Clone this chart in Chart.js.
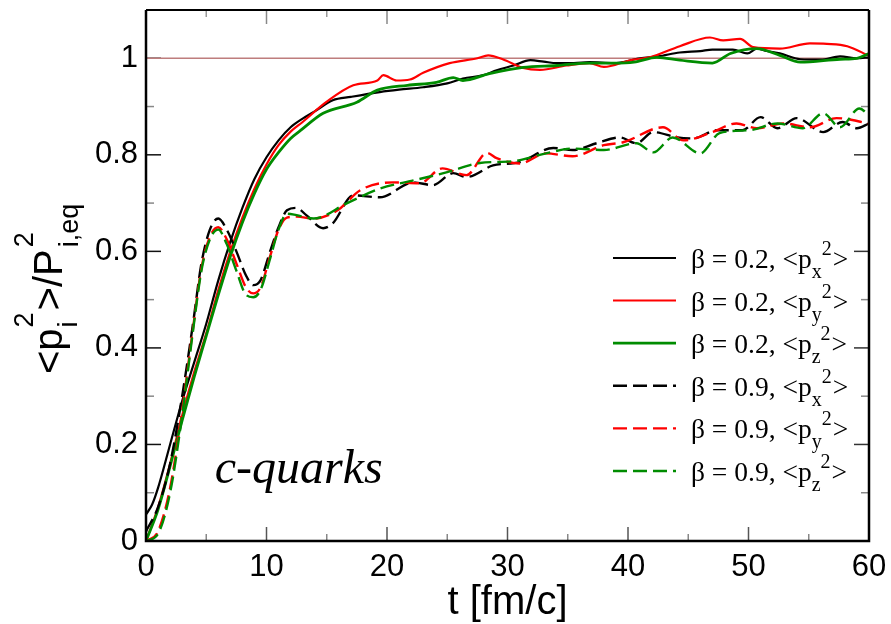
<!DOCTYPE html>
<html><head><meta charset="utf-8">
<script src="https://cdn.jsdelivr.net/npm/chart.js@4.4.1/dist/chart.umd.min.js"></script>
<style>html,body{margin:0;padding:0;background:#fff}#wrap{width:891px;height:624px;position:relative}</style>
</head><body><div id="wrap"><canvas id="c" width="891" height="624"></canvas></div>
<script>
// ---- tick values ----
const xTicks = [0, 10, 20, 30, 40, 50, 60];
const yTicks = [0, 0.2, 0.4, 0.6, 0.8, 1];
const xMinorTicks = [5, 15, 25, 35, 45, 55];
const yMinorTicks = [0.1, 0.3, 0.5, 0.7, 0.9];

// ---- legend ----
const legendBeta = ['0.2', '0.2', '0.2', '0.9', '0.9', '0.9'];
const legendComp = ['x', 'y', 'z', 'x', 'y', 'z'];

// ---- beta = 0.2 (solid) ----
const tB02x = [0, 0.5, 1, 2, 3, 4, 5, 6, 7, 8, 9, 10, 11, 12, 13, 14, 15.5, 17, 19.4, 21, 23, 25, 26.3, 28, 29.1, 30.5, 31.9, 33, 34.1, 35.5, 36.8, 38.8, 41, 42.5, 44.3, 46, 47, 48.7, 49.9, 50.7, 51.5, 52.6, 54.3, 56, 57.6, 59, 60];
const yB02x = [0.055, 0.075, 0.11, 0.2, 0.29, 0.37, 0.45, 0.54, 0.62, 0.69, 0.75, 0.795, 0.83, 0.857, 0.875, 0.89, 0.913, 0.92, 0.93, 0.935, 0.94, 0.948, 0.958, 0.965, 0.975, 0.985, 0.996, 0.993, 0.99, 0.99, 0.992, 0.99, 1.0, 1.004, 1.012, 1.015, 1.018, 1.018, 1.01, 1.02, 1.015, 1.01, 0.998, 0.997, 1.004, 1.0, 1.002];

const tB02y = [0, 1, 2, 3, 4, 5, 6, 7, 8, 9, 10, 11, 12, 13, 15, 17.2, 19.2, 19.7, 20.8, 21.9, 23, 25.2, 27.5, 28.4, 29.6, 31.3, 32.7, 34.9, 36.8, 38, 40.2, 41.8, 44.3, 46.8, 47.9, 49.3, 50.4, 52.6, 55.1, 56.5, 58.2, 60];
const yB02y = [0.0, 0.07, 0.16, 0.26, 0.35, 0.43, 0.52, 0.6, 0.67, 0.73, 0.78, 0.82, 0.848, 0.868, 0.91, 0.944, 0.954, 0.965, 0.954, 0.956, 0.97, 0.99, 1.0, 1.006, 0.998, 0.98, 0.976, 0.985, 0.99, 0.982, 0.996, 1.002, 1.025, 1.043, 1.037, 1.04, 1.023, 1.02, 1.031, 1.03, 1.025, 1.005];

const tB02z = [0, 1, 2, 3, 4, 5, 6, 7, 8, 9, 10, 11, 12, 12.8, 14.7, 17.5, 19.2, 21.7, 24.1, 25.5, 26.3, 28.5, 31.3, 34.1, 36.8, 38.8, 40.5, 42.4, 44.3, 47, 48.5, 50.7, 52.6, 54.3, 57.6, 59, 60];
const yB02z = [0.0, 0.065, 0.155, 0.25, 0.34, 0.425, 0.51, 0.59, 0.66, 0.72, 0.77, 0.805, 0.834, 0.85, 0.886, 0.909, 0.934, 0.944, 0.95, 0.96, 0.954, 0.968, 0.981, 0.985, 0.99, 0.99, 0.992, 1.002, 0.996, 0.99, 1.01, 1.02, 1.006, 0.992, 0.998, 1.0, 1.01];

// ---- beta = 0.9 (dashed) ----
const tB09x = [0, 1, 2, 3, 3.9, 4.6, 5.3, 6.0, 6.7, 7.5, 8.3, 8.9, 9.5, 10.3, 11, 11.7, 12.5, 13.3, 14.7, 15.5, 17.2, 19.4, 22.2, 23.8, 25.5, 26.6, 28.8, 31, 33.8, 35.4, 37.4, 39.3, 40.7, 42.1, 44.1, 45.4, 47.4, 49.5, 51, 52.4, 54, 56.2, 57.8, 59, 60];
const yB09x = [0.02, 0.07, 0.16, 0.3, 0.45, 0.575, 0.645, 0.668, 0.645, 0.6, 0.55, 0.53, 0.54, 0.6, 0.65, 0.685, 0.69, 0.675, 0.648, 0.658, 0.716, 0.712, 0.743, 0.737, 0.762, 0.754, 0.778, 0.785, 0.814, 0.81, 0.824, 0.836, 0.824, 0.847, 0.836, 0.834, 0.851, 0.851, 0.878, 0.855, 0.876, 0.847, 0.868, 0.855, 0.865];

const tB09y = [0, 1, 2, 3, 3.9, 4.6, 5.3, 6.0, 6.7, 7.5, 8.3, 8.9, 9.5, 10.3, 11, 11.7, 12.5, 13.9, 15.9, 17.8, 20.5, 22.7, 24.6, 26.6, 28.3, 29.1, 31, 33.2, 35.4, 38, 39.6, 42.9, 44.6, 47, 49, 50.7, 52.9, 55.1, 57.3, 60];
const yB09y = [0, 0.02, 0.11, 0.27, 0.44, 0.565, 0.63, 0.65, 0.625, 0.575, 0.525, 0.513, 0.525, 0.59, 0.645, 0.67, 0.672, 0.668, 0.685, 0.727, 0.743, 0.741, 0.772, 0.758, 0.804, 0.793, 0.782, 0.803, 0.797, 0.82, 0.826, 0.857, 0.83, 0.847, 0.865, 0.855, 0.865, 0.857, 0.876, 0.865];

const tB09z = [0, 1, 2, 3, 3.9, 4.6, 5.3, 6.0, 6.7, 7.5, 8.3, 8.9, 9.5, 10.3, 11, 11.7, 12.5, 13.9, 16.7, 19.4, 22.2, 25, 27.7, 30.5, 33.2, 35.4, 38, 40.7, 42.1, 43.7, 46, 47.6, 50.1, 52.4, 54.5, 56.2, 57.6, 59.2, 60];
const yB09z = [0, 0.015, 0.1, 0.26, 0.435, 0.56, 0.625, 0.645, 0.615, 0.56, 0.51, 0.505, 0.52, 0.585, 0.645, 0.678, 0.675, 0.668, 0.70, 0.73, 0.747, 0.764, 0.783, 0.787, 0.803, 0.813, 0.81, 0.824, 0.805, 0.836, 0.803, 0.845, 0.851, 0.865, 0.855, 0.886, 0.857, 0.896, 0.882];

// ---- reference line ----
const refT = [0, 60];
const refY = [1, 1];

const BLACK = '#000000', RED = '#ff0000', GREEN = '#008c00';
const DASH = [14, 6];

function pts(t, y) { return t.map((v, i) => ({ x: v, y: y[i] })); }

function ds(t, y, color, dashed, width, order) {
  return {
    data: pts(t, y), borderColor: color, borderWidth: width,
    borderDash: dashed ? DASH : [], pointRadius: 0, fill: false,
    cubicInterpolationMode: 'monotone', order: order
  };
}

const datasets = [
  ds(tB02x, yB02x, BLACK, false, 2.2, 6),
  ds(tB02y, yB02y, RED, false, 2.2, 5),
  ds(tB02z, yB02z, GREEN, false, 2.8, 4),
  ds(tB09x, yB09x, BLACK, true, 2.4, 3),
  ds(tB09y, yB09y, RED, true, 2.4, 2),
  ds(tB09z, yB09z, GREEN, true, 2.4, 1),
  { data: pts(refT, refY), borderColor: 'rgb(190,125,125)', borderWidth: 1.5, pointRadius: 0, fill: false, order: 10 }
];
const legendStyle = [
  [BLACK, false, 2], [RED, false, 2], [GREEN, false, 2.8],
  [BLACK, true, 2.4], [RED, true, 2.4], [GREEN, true, 2.4]
];

const decor = {
  id: 'decor',
  beforeDatasetsDraw(chart) {
    const ctx = chart.ctx, a = chart.chartArea, xs = chart.scales.x, ys = chart.scales.y;
    ctx.save();
    const tick = (x1, y1, x2, y2, col) => {
      ctx.strokeStyle = col; ctx.lineWidth = 1.5; ctx.beginPath();
      ctx.moveTo(x1, y1); ctx.lineTo(x2, y2); ctx.stroke();
    };
    xTicks.forEach(v => { const p = xs.getPixelForValue(v); tick(p, a.bottom, p, a.bottom - 14, '#555'); tick(p, a.top, p, a.top + 14, '#888'); });
    xMinorTicks.forEach(v => { const p = xs.getPixelForValue(v); tick(p, a.bottom, p, a.bottom - 7, '#888'); tick(p, a.top, p, a.top + 7, '#999'); });
    yTicks.forEach(v => { const p = ys.getPixelForValue(v); tick(a.left, p, a.left + 15, p, '#111'); tick(a.right, p, a.right - 15, p, '#333'); });
    yMinorTicks.forEach(v => { const p = ys.getPixelForValue(v); tick(a.left, p, a.left + 8, p, '#888'); tick(a.right, p, a.right - 8, p, '#888'); });
    ctx.restore();
  },
  afterDraw(chart) {
    const ctx = chart.ctx, a = chart.chartArea, xs = chart.scales.x, ys = chart.scales.y;
    ctx.save();
    // frame
    ctx.strokeStyle = '#000'; ctx.setLineDash([]);
    ctx.lineWidth = 2.5;
    ctx.beginPath(); ctx.moveTo(a.left, a.top); ctx.lineTo(a.left, a.bottom); ctx.lineTo(a.right, a.bottom); ctx.lineTo(a.right, a.top); ctx.stroke();
    ctx.lineWidth = 2;
    ctx.beginPath(); ctx.moveTo(a.left, a.top); ctx.lineTo(a.right, a.top); ctx.stroke();

    // x title
    ctx.fillStyle = '#000';
    ctx.font = '40px "Liberation Sans", Arial, sans-serif';
    ctx.textAlign = 'center'; ctx.textBaseline = 'alphabetic';
    ctx.fillText('t [fm/c]', (a.left + a.right) / 2, 614);

    // y title (rotated)
    ctx.save();
    ctx.translate(62, 374); ctx.rotate(-Math.PI / 2);
    ctx.textAlign = 'left';
    const big = '40px "Liberation Sans", Arial, sans-serif';
    const small = '27px "Liberation Sans", Arial, sans-serif';
    let u = 0;
    ctx.font = big; ctx.fillText('<p', u, 0); u += ctx.measureText('<p').width;
    ctx.font = small;
    ctx.fillText('2', u + 1, -29); const w1 = ctx.measureText('2').width;
    ctx.fillText('i', u + 1, 15); const w2 = ctx.measureText('i').width;
    u += Math.max(w1, w2) + 3;
    ctx.font = big; ctx.fillText('>/P', u, 0); u += ctx.measureText('>/P').width;
    ctx.font = small;
    ctx.fillText('2', u + 2, -29);
    ctx.fillText('i,eq', u + 2, 16);
    ctx.restore();

    // annotation
    ctx.font = 'italic 48px "Liberation Serif", "Times New Roman", serif';
    ctx.textAlign = 'left'; ctx.textBaseline = 'alphabetic';
    ctx.fillText('c-quarks', xs.getPixelForValue(5.7), ys.getPixelForValue(0.12));

    // legend
    const lx1 = 613, lx2 = 676, tx = 691, y0 = 258, dy = 42.6;
    const mainF = '27.5px "Liberation Serif", "Times New Roman", serif';
    const subF = '20px "Liberation Serif", "Times New Roman", serif';
    legendStyle.forEach((st, i) => {
      const y = y0 + i * dy;
      ctx.strokeStyle = st[0]; ctx.lineWidth = st[2]; ctx.setLineDash(st[1] ? DASH : []);
      ctx.beginPath(); ctx.moveTo(lx1, y); ctx.lineTo(lx2, y); ctx.stroke();
      ctx.setLineDash([]);
      ctx.fillStyle = '#000';
      ctx.font = mainF;
      const s = 'β = ' + legendBeta[i] + ', <p';
      ctx.fillText(s, tx, y + 10);
      let x = tx + ctx.measureText(s).width;
      ctx.font = subF;
      ctx.fillText(legendComp[i], x, y + 20);
      x += ctx.measureText(legendComp[i]).width;
      ctx.fillText('2', x, y - 3);
      x += ctx.measureText('2').width + 1;
      ctx.font = mainF;
      ctx.fillText('>', x, y + 10);
    });
    ctx.restore();
  }
};

new Chart(document.getElementById('c'), {
  type: 'line',
  data: { datasets },
  options: {
    responsive: false, animation: false, devicePixelRatio: 1,
    layout: { padding: { top: 10, right: 22, left: 0, bottom: 0 } },
    plugins: { legend: { display: false }, tooltip: { enabled: false } },
    scales: {
      x: {
        type: 'linear', min: 0, max: 60,
        afterFit(s) { s.height = 83; s.paddingLeft = 0; s.paddingRight = 0; },
        afterBuildTicks(s) { s.ticks = xTicks.map(v => ({ value: v })); },
        grid: { display: false, drawTicks: false },
        border: { display: false },
        ticks: { padding: 8, color: '#000', maxRotation: 0, font: { family: '"Liberation Sans", Arial, sans-serif', size: 31 }, callback: v => String(v) }
      },
      y: {
        type: 'linear', min: 0, max: 1.1,
        afterFit(s) { s.width = 146; s.paddingTop = 0; s.paddingBottom = 0; },
        afterBuildTicks(s) { s.ticks = yTicks.map(v => ({ value: v })); },
        grid: { display: false, drawTicks: false },
        border: { display: false },
        ticks: { padding: 8, color: '#000', font: { family: '"Liberation Sans", Arial, sans-serif', size: 31 }, callback: v => String(+v.toFixed(1)) }
      }
    }
  },
  plugins: [decor]
});
</script>
</body></html>
